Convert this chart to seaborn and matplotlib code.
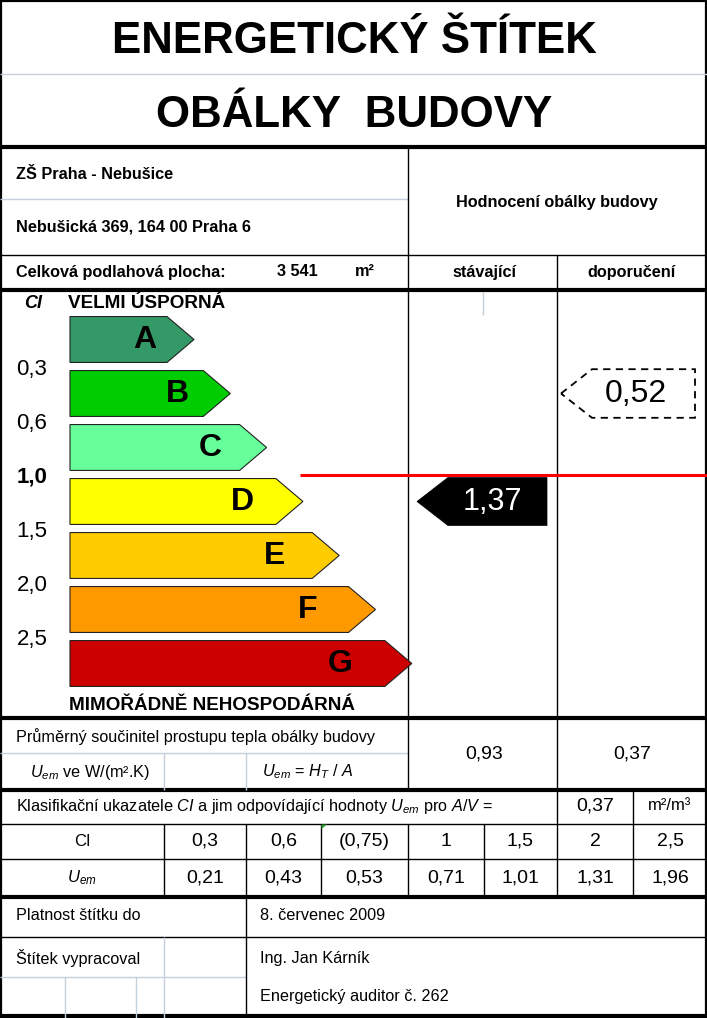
import numpy as np
import pandas as pd
import seaborn as sns
import matplotlib
matplotlib.use("Agg")
import matplotlib.pyplot as plt
from matplotlib.patches import Polygon

# Data
title_lines = ["ENERGETICKÝ ŠTÍTEK", "OBÁLKY  BUDOVY"]
building = "ZŠ Praha - Nebušice"
address = "Nebušická 369, 164 00 Praha 6"
floor_area = 3541
classes = ["A", "B", "C", "D", "E", "F", "G"]
class_colors = ["#339966", "#00CC00", "#66FF99", "#FFFF00", "#FFCC00", "#FF9900", "#CC0000"]
ci_bounds = [0.3, 0.6, 1.0, 1.5, 2.0, 2.5]
ci_current = 1.37
ci_recommended = 0.52
uem_current = 0.93
uem_recommended = 0.37
a_v = 0.37
ci_table = ["0,3", "0,6", "(0,75)", "1", "1,5", "2", "2,5"]
uem_table = [0.21, 0.43, 0.53, 0.71, 1.01, 1.31, 1.96]
valid_to = "8. červenec 2009"
author = ["Ing. Jan Kárník", "Energetický auditor č. 262"]


def cz(v, fmt="{:.2f}"):
    return fmt.format(v).replace(".", ",")


sns.set_theme(style="white")
plt.rcParams["font.family"] = ["Liberation Sans", "DejaVu Sans"]
plt.rcParams["text.color"] = "black"
plt.rcParams["mathtext.fontset"] = "custom"
plt.rcParams["mathtext.rm"] = "Liberation Sans"
plt.rcParams["mathtext.it"] = "Liberation Sans:italic"
plt.rcParams["mathtext.bf"] = "Liberation Sans:bold"

fig = plt.figure(figsize=(7.07, 10.18), dpi=100)
ax = fig.add_axes([0, 0, 1, 1])
ax.set_xlim(0, 707)
ax.set_ylim(1018, 0)
ax.axis("off")

GRAY = "#c5cedb"
THICK = 3.0
THIN = 1.0


def hl(y, x0=0, x1=707, lw=THIN, c="black"):
    ax.plot([x0, x1], [y, y], color=c, lw=lw, solid_capstyle="butt")


def vl(x, y0, y1, lw=THIN, c="black"):
    ax.plot([x, x], [y0, y1], color=c, lw=lw, solid_capstyle="butt")


def tx(x, y, s, size=11.7, ha="left", weight="normal", style="normal",
       color="black", va="center"):
    ax.text(x, y, s, fontsize=size, ha=ha, va=va, weight=weight,
            style=style, color=color)


# grid of the label
hl(74, c=GRAY)
hl(147, lw=THICK)
hl(199, 0, 408, c=GRAY)
hl(255)
hl(290, lw=THICK)
hl(718, lw=THICK)
hl(753, 0, 408, c=GRAY)
hl(790, lw=THICK)
hl(824)
hl(859)
hl(897, lw=THICK)
hl(937)
hl(977, 0, 246, c=GRAY)
hl(1016, lw=THICK)
vl(408, 147, 790)
vl(557, 255, 824)
vl(483, 292, 315, c=GRAY)
vl(164, 753, 790, c=GRAY)
vl(246, 753, 790, c=GRAY)
vl(633, 790, 897)
for x in [164, 246, 321, 408, 484, 557]:
    vl(x, 824, 897)
vl(246, 897, 1018)
vl(164, 937, 1018, c=GRAY)
vl(65, 977, 1018, c=GRAY)
vl(136, 977, 1018, c=GRAY)
ax.add_patch(Polygon([[321.5, 824.5], [327, 824.5], [321.5, 829]], closed=True,
                     color="#2e9a2e", lw=0, zorder=5))
ax.add_patch(plt.Rectangle((1, 1), 705, 1016, fill=False, lw=1.6, ec="black"))

# titles
tx(354, 53, title_lines[0], size=31.6, ha="center", weight="bold", va="baseline")
tx(354, 127, title_lines[1], size=31.6, ha="center", weight="bold", va="baseline")

# header
tx(16, 174, building, weight="bold")
tx(16, 227, address, weight="bold")
tx(557, 202, "Hodnocení obálky budovy", ha="center", weight="bold")
tx(16, 272, "Celková podlahová plocha:", weight="bold")
tx(297, 272, f"{floor_area:,}".replace(",", " "), ha="center", weight="bold")
tx(355, 272, "m²", weight="bold")
tx(484, 272, "stávající", ha="center", weight="bold")
tx(632, 272, "doporučení", ha="center", weight="bold")

tx(33, 303, "CI", size=13, ha="center", weight="bold", style="italic")
tx(68, 303, "VELMI ÚSPORNÁ", size=13.6, weight="bold")
tx(69, 706, "MIMOŘÁDNĚ NEHOSPODÁRNÁ", size=13.6, weight="bold")

# class scale: y in class index units, x in pixels from bar start
top, bottom, pitch, y0 = 290, 718, 54.0, 339.5
ax_sc = fig.add_axes([0, (1018 - bottom) / 1018, 1, (bottom - top) / 1018])
idx = np.arange(len(classes))
body_len = 97 + 36.3 * idx
df = pd.DataFrame({"cls": classes, "len": body_len})
sns.barplot(data=df, x="len", y="cls", hue="cls", palette=class_colors,
            orient="h", width=0.85, saturation=1, legend=False, linewidth=0, ax=ax_sc)
ax_sc.set_xlim(-70, 637)
ax_sc.set_ylim((bottom - y0) / pitch, (top - y0) / pitch)
ax_sc.axis("off")
ax_sc.patch.set_alpha(0)

h = 0.425
tip = 27
for i, (c, L) in enumerate(zip(class_colors, body_len)):
    ax_sc.add_patch(Polygon([[L - 2, i - h], [L, i - h], [L + tip, i], [L, i + h],
                             [L - 2, i + h]], closed=True, fc=c, lw=0))
    ax_sc.add_patch(Polygon([[0, i - h], [L, i - h], [L + tip, i], [L, i + h], [0, i + h]],
                            closed=True, fill=False, ec="#222222", lw=0.8))
    ax_sc.text(75 + 32.5 * i, i, classes[i], fontsize=23, weight="bold",
               ha="center", va="center", color="black")

for j, b in enumerate(ci_bounds):
    ax_sc.text(-38, j + 0.5 + 0.05, cz(b, "{:.1f}"), fontsize=16, ha="center",
               va="center", color="black", weight="bold" if b == 1.0 else "normal")

# reference limit CI = 1.0
ref_pos = ci_bounds.index(1.0) + 0.5
ax_sc.plot([230, 637], [ref_pos, ref_pos], color="red", lw=2.2, solid_capstyle="butt")

# current and recommended arrows
ic = int(np.searchsorted(ci_bounds, ci_current))
ax_sc.add_patch(Polygon([[347, ic], [378, ic - 0.445], [477, ic - 0.445],
                         [477, ic + 0.445], [378, ic + 0.445]], closed=True,
                        fc="black", ec="black", lw=0.5))
ax_sc.text(422, ic, cz(ci_current), fontsize=22, color="white", ha="center", va="center")

ir = int(np.searchsorted(ci_bounds, ci_recommended))
ax_sc.add_patch(Polygon([[491, ir], [522, ir - 0.45], [625, ir - 0.45],
                         [625, ir + 0.45], [522, ir + 0.45]], closed=True,
                        fill=False, ec="black", lw=1.3, ls=(0, (4, 3))))
ax_sc.text(566, ir, cz(ci_recommended), fontsize=23, ha="center", va="center",
           color="black")

# U_em section
tx(16, 737, "Průměrný součinitel prostupu tepla obálky budovy")
tx(30, 772, r"$U_{em}$ ve W/(m².K)")
tx(262, 772, r"$U_{em}$ = $H_{T}$ / $A$")
tx(484, 754, cz(uem_current), size=14, ha="center")
tx(632, 754, cz(uem_recommended), size=14, ha="center")

tx(16, 806, r"Klasifikační ukazatele $CI$ a jim odpovídající hodnoty $U_{em}$ pro $A/V$ =")
tx(595, 806, cz(a_v), size=14, ha="center")
tx(670, 806, "m²/m³", size=12, ha="center")

col_edges = [0, 164, 246, 321, 408, 484, 557, 633, 707]
centers = [(a + b) / 2 for a, b in zip(col_edges[:-1], col_edges[1:])]
tx(centers[0], 841, "CI", size=12, ha="center")
tx(centers[0], 878, r"$U_{em}$", size=12, ha="center")
for cx, ci, u in zip(centers[1:], ci_table, uem_table):
    tx(cx, 841, ci, size=14, ha="center")
    tx(cx, 878, cz(u), size=14, ha="center")

# validity and author
tx(16, 916, "Platnost štítku do")
tx(260, 916, valid_to)
tx(16, 958, "Štítek vypracoval")
tx(260, 958, author[0])
tx(260, 997, author[1])

fig.savefig("out.png", dpi=100)
